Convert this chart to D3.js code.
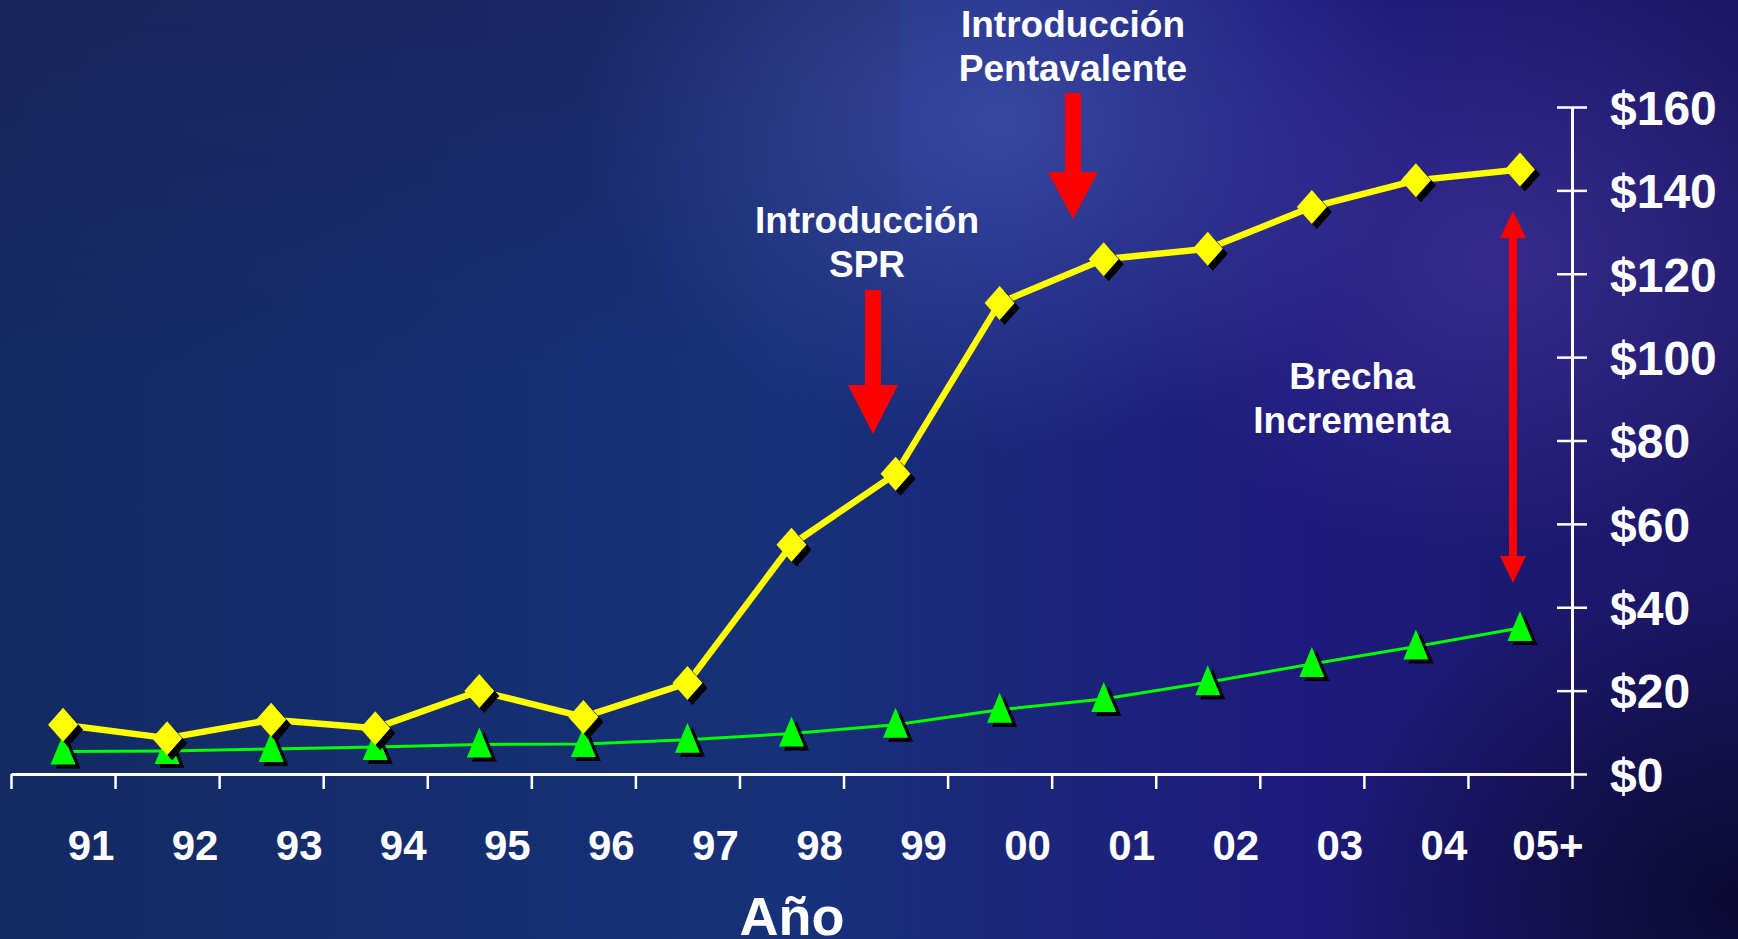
<!DOCTYPE html>
<html>
<head>
<meta charset="utf-8">
<script src="https://cdn.jsdelivr.net/npm/d3@7"></script>
<style>
  html, body { margin: 0; padding: 0; background: #14295f; overflow: hidden; }
  svg { display: block; }
</style>
</head>
<body>
<script>
var width = 1738;
var height = 939;

// data
var years = ["91", "92", "93", "94", "95", "96", "97", "98", "99", "00", "01", "02", "03", "04", "05+"];
var costHigh = [11.8, 8.6, 13, 11, 19.9, 13.7, 21.8, 55, 72, 113, 123.5, 126, 136, 142.4, 145];
var costLow = [5.4, 5.5, 6, 6.5, 7.1, 7.2, 8.2, 9.7, 11.8, 15.4, 18, 22, 26.4, 30.6, 35];
var yTicks = [0, 20, 40, 60, 80, 100, 120, 140, 160];

var svg = d3.select("body").append("svg")
    .attr("width", width)
    .attr("height", height);

// fondo
var defs = svg.append("defs");
var bg = defs.append("linearGradient").attr("id", "bg").attr("x1", 0).attr("x2", 1).attr("y1", 0).attr("y2", 0);
bg.append("stop").attr("offset", "0").attr("stop-color", "#132a62");
bg.append("stop").attr("offset", "0.45").attr("stop-color", "#17317a");
bg.append("stop").attr("offset", "0.75").attr("stop-color", "#1e1a7c");
bg.append("stop").attr("offset", "1").attr("stop-color", "#1c1766");

var topdark = defs.append("linearGradient").attr("id", "topdark").attr("x1", 0).attr("x2", 0).attr("y1", 0).attr("y2", 1);
topdark.append("stop").attr("offset", "0").attr("stop-color", "#1c1f55").attr("stop-opacity", 0.5);
topdark.append("stop").attr("offset", "0.4").attr("stop-color", "#1c1f55").attr("stop-opacity", 0);

var glow = defs.append("radialGradient").attr("id", "glow");
glow.append("stop").attr("offset", "0").attr("stop-color", "#4454b0").attr("stop-opacity", 0.7);
glow.append("stop").attr("offset", "1").attr("stop-color", "#4454b0").attr("stop-opacity", 0);

var purple = defs.append("radialGradient").attr("id", "purple");
purple.append("stop").attr("offset", "0").attr("stop-color", "#4a3aa0").attr("stop-opacity", 0.55);
purple.append("stop").attr("offset", "1").attr("stop-color", "#4a3aa0").attr("stop-opacity", 0);

var dark = defs.append("radialGradient").attr("id", "dark");
dark.append("stop").attr("offset", "0").attr("stop-color", "#050520").attr("stop-opacity", 0.75);
dark.append("stop").attr("offset", "1").attr("stop-color", "#050520").attr("stop-opacity", 0);

svg.append("rect").attr("width", width).attr("height", height).attr("fill", "url(#bg)");
svg.append("rect").attr("width", 900).attr("height", height).attr("fill", "url(#topdark)");
svg.append("ellipse").attr("cx", 1000).attr("cy", 120).attr("rx", 420).attr("ry", 330).attr("fill", "url(#glow)");
svg.append("ellipse").attr("cx", 1500).attr("cy", 260).attr("rx", 380).attr("ry", 300).attr("fill", "url(#purple)");
svg.append("ellipse").attr("cx", 1740).attr("cy", 900).attr("rx", 420).attr("ry", 330).attr("fill", "url(#dark)");

// escalas
var x = d3.scaleBand().domain(years).range([11, 1572]);
var xTick = d3.scaleLinear().domain([0, years.length]).range([11, 1572]);
var y = d3.scaleLinear().domain([0, 160]).range([774, 107]);

// eje x
var gx = svg.append("g")
    .attr("transform", "translate(0," + y(0) + ")")
    .call(d3.axisBottom(xTick).tickValues(d3.range(years.length + 1)).tickSize(15).tickSizeOuter(0).tickFormat(""));
gx.select(".domain").attr("stroke", "#fff").attr("stroke-width", 3);
gx.selectAll(".tick line").attr("stroke", "#fff").attr("stroke-width", 2.5);

svg.selectAll(".year")
    .data(years)
    .enter().append("text")
    .attr("class", "year")
    .attr("x", function (d) { return x(d) + x.bandwidth() / 2 + 28; })
    .attr("y", 860)
    .attr("text-anchor", "middle")
    .attr("fill", "#fff")
    .style("font-family", "'Liberation Sans', Arial, sans-serif")
    .style("font-weight", "bold")
    .style("font-size", "42px")
    .text(function (d) { return d; });

svg.append("text")
    .attr("x", 792)
    .attr("y", 935)
    .attr("text-anchor", "middle")
    .attr("fill", "#fff")
    .style("font-family", "'Liberation Sans', Arial, sans-serif")
    .style("font-weight", "bold")
    .style("font-size", "54px")
    .text("Año");

// eje y
var gy = svg.append("g")
    .attr("transform", "translate(1572,0)")
    .call(d3.axisRight(y).tickValues(yTicks).tickSize(15).tickSizeOuter(0).tickPadding(23)
        .tickFormat(function (d) { return "$" + d; }));
gy.select(".domain").attr("stroke", "#fff").attr("stroke-width", 3);
gy.selectAll(".tick line").attr("x1", -15).attr("stroke", "#fff").attr("stroke-width", 2.5);
gy.selectAll(".tick text")
    .attr("fill", "#fff")
    .attr("dy", "0.36em")
    .style("font-family", "'Liberation Sans', Arial, sans-serif")
    .style("font-weight", "bold")
    .style("font-size", "48px");

// lineas
var cx = function (d, i) { return x(years[i]) + x.bandwidth() / 2; };

svg.append("path")
    .datum(costLow)
    .attr("fill", "none")
    .attr("stroke", "#00ff00")
    .attr("stroke-width", 3)
    .attr("d", d3.line().x(cx).y(function (d) { return y(d); }));

var tri = "M0,-17L12.5,13L-12.5,13Z";
svg.selectAll(".triS").data(costLow).enter().append("path")
    .attr("d", tri).attr("fill", "#000")
    .attr("transform", function (d, i) { return "translate(" + (cx(d, i) + 5) + "," + (y(d) + 4) + ")"; });
svg.selectAll(".tri").data(costLow).enter().append("path")
    .attr("d", tri).attr("fill", "#00ff00")
    .attr("transform", function (d, i) { return "translate(" + cx(d, i) + "," + y(d) + ")"; });

svg.append("path")
    .datum(costHigh)
    .attr("fill", "none")
    .attr("stroke", "#ffff00")
    .attr("stroke-width", 6.5)
    .attr("stroke-linejoin", "round")
    .attr("d", d3.line().x(cx).y(function (d) { return y(d); }));

var dia = "M0,-17L15,0L0,17L-15,0Z";
svg.selectAll(".diaS").data(costHigh).enter().append("path")
    .attr("d", dia).attr("fill", "#000")
    .attr("transform", function (d, i) { return "translate(" + (cx(d, i) + 5) + "," + (y(d) + 5) + ")"; });
svg.selectAll(".dia").data(costHigh).enter().append("path")
    .attr("d", dia).attr("fill", "#ffff00")
    .attr("transform", function (d, i) { return "translate(" + cx(d, i) + "," + y(d) + ")"; });

// anotaciones
function label(lines, lx, ly) {
    var t = svg.append("text")
        .attr("text-anchor", "middle")
        .attr("fill", "#fff")
        .style("font-family", "'Liberation Sans', Arial, sans-serif")
        .style("font-weight", "bold")
        .style("font-size", "37px");
    lines.forEach(function (s, i) {
        t.append("tspan").attr("x", lx).attr("y", ly + i * 44).text(s);
    });
}

function downArrow(ax, top, headTop, tip) {
    svg.append("path")
        .attr("fill", "#ff0000")
        .attr("d", "M" + (ax - 8) + "," + top + "L" + (ax + 8) + "," + top +
            "L" + (ax + 8) + "," + headTop + "L" + (ax + 25) + "," + headTop +
            "L" + ax + "," + tip + "L" + (ax - 25) + "," + headTop +
            "L" + (ax - 8) + "," + headTop + "Z");
}

label(["Introducción", "Pentavalente"], 1073, 37);
downArrow(1073, 93, 172, 219);

label(["Introducción", "SPR"], 867, 233);
downArrow(873, 290, 385, 434);

label(["Brecha", "Incrementa"], 1352, 389);

// flecha doble
var ax = 1513, t0 = 211, t1 = 583;
svg.append("path")
    .attr("fill", "#ff0000")
    .attr("d", "M" + ax + "," + t0 + "L" + (ax + 13) + "," + (t0 + 27) + "L" + (ax + 4) + "," + (t0 + 27) +
        "L" + (ax + 4) + "," + (t1 - 27) + "L" + (ax + 13) + "," + (t1 - 27) + "L" + ax + "," + t1 +
        "L" + (ax - 13) + "," + (t1 - 27) + "L" + (ax - 4) + "," + (t1 - 27) +
        "L" + (ax - 4) + "," + (t0 + 27) + "L" + (ax - 13) + "," + (t0 + 27) + "Z");
</script>
</body>
</html>
